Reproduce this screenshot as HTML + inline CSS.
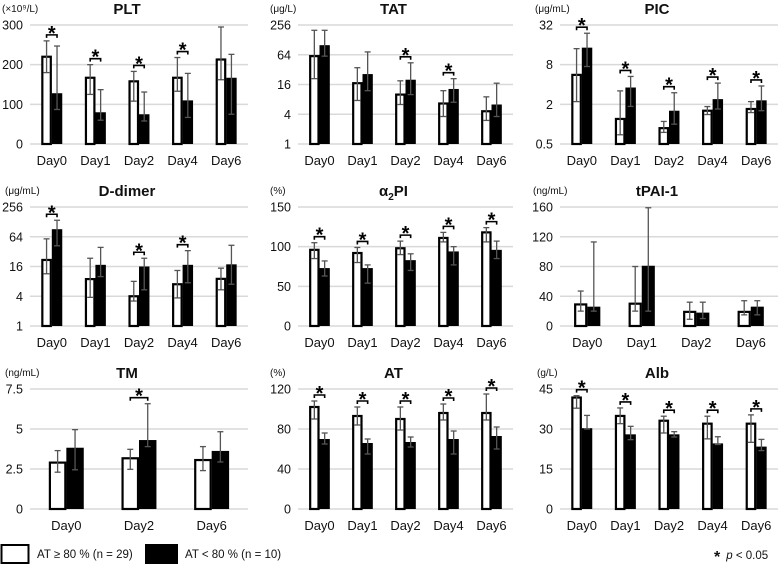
<!DOCTYPE html>
<html><head><meta charset="utf-8">
<style>
html,body{margin:0;padding:0;background:#fff;}
svg{display:block;font-family:"Liberation Sans",Arial,sans-serif;}
</style></head>
<body>
<svg id="chart" width="778" height="573" viewBox="0 0 778 573"></svg>
<script>
// ---- data arrays ----
const days5 = ["Day0","Day1","Day2","Day4","Day6"];
const days4 = ["Day0","Day1","Day2","Day6"];
const days3 = ["Day0","Day2","Day6"];

const pltWhite=[220,167,158,167,213], pltWhiteLo=[180,125,108,133,162], pltWhiteHi=[260,200,183,218,295];
const pltBlack=[128,80,75,110,167], pltBlackLo=[87,60,58,67,75], pltBlackHi=[247,137,131,178,226];
const pltSig=[1,1,1,1,0]; const pltTicks=[0,100,200,300];

const tatWhite=[60,17,10,6.6,4.6], tatWhiteLo=[21,7.6,6.3,3.6,3], tatWhiteHi=[200,35,19,12,9];
const tatBlack=[100,26,20,13,6.3], tatBlackLo=[60,12,10,7,3.6], tatBlackHi=[200,73,44,21,17];
const tatSig=[0,0,1,1,0]; const tatTicks=[1,4,16,64,256];

const picWhite=[5.6,1.2,0.87,1.6,1.7], picWhiteLo=[2.2,0.69,0.75,1.4,1.5], picWhiteHi=[14,3.2,1.1,1.85,2.2];
const picBlack=[14.5,3.6,1.6,2.4,2.3], picBlackLo=[7.5,1.86,1.0,1.7,1.6], picBlackHi=[24,5.3,3.0,4.2,3.8];
const picSig=[1,1,1,1,1]; const picTicks=[0.5,2,8,32];

const ddWhite=[21.7,8.9,4,7,9], ddWhiteLo=[11.4,3.8,3.2,3.7,5.4], ddWhiteHi=[58,23.5,8,13.3,14.8];
const ddBlack=[91,17.3,16,17.3,17.7], ddBlackLo=[42,10,5.4,7.5,7], ddBlackHi=[138,39,23.5,33.5,43];
const ddSig=[1,0,1,1,0]; const ddTicks=[1,4,16,64,256];

const a2White=[96,92,98,111,118], a2WhiteLo=[85,80,90,106,106], a2WhiteHi=[105,99,107,118,124];
const a2Black=[73,73,83,94,96], a2BlackLo=[63,54,70,77,85], a2BlackHi=[82,77,91,100,107];
const a2Sig=[1,1,1,1,1]; const a2Ticks=[0,50,100,150];

const tpWhite=[29,30,19,19], tpWhiteLo=[20,20,9,15], tpWhiteHi=[47,80,32,34];
const tpBlack=[26,81,18,26], tpBlackLo=[20,20,10,15], tpBlackHi=[113,159,32,34];
const tpSig=[0,0,0,0]; const tpTicks=[0,40,80,120,160];

const tmWhite=[2.9,3.17,3.06], tmWhiteLo=[2.3,2.48,2.4], tmWhiteHi=[3.65,3.73,3.9];
const tmBlack=[3.83,4.31,3.63], tmBlackLo=[2.45,3.9,2.94], tmBlackHi=[4.96,6.58,4.83];
const tmSig=[0,1,0]; const tmTicks=[0,2.5,5,7.5];

const atWhite=[102,93,90,96,96], atWhiteLo=[90,84,79,89,89], atWhiteHi=[108,102,102,105,115];
const atBlack=[70,66,67,70,73], atBlackLo=[65,55,62,55,60], atBlackHi=[76,70,72,78,82];
const atSig=[1,1,1,1,1]; const atTicks=[0,40,80,120];

const albWhite=[41.8,34.9,33.1,32,32], albWhiteLo=[37.8,32,28.5,26.3,25], albWhiteHi=[42.5,37.9,34.8,34.8,35.3];
const albBlack=[30.3,28,28,24.6,23.4], albBlackLo=[30,26,27,24.2,21.9], albBlackHi=[35.1,31,29,27.1,26.1];
const albSig=[1,1,1,1,1]; const albTicks=[0,15,30,45];

// ---- rendering ----
const NS="http://www.w3.org/2000/svg";
const svg=document.getElementById('chart');
function el(tag,attrs,parent){const e=document.createElementNS(NS,tag);for(const k in attrs)e.setAttribute(k,attrs[k]);(parent||svg).appendChild(e);return e;}
function txt(s,attrs,parent){const t=el('text',attrs,parent);t.textContent=s;return t;}

const cols=[[30,248],[298,513],[560,778]];
const rows=[[25,144],[207,326],[389,509]];

function panel(o){
  const [x0,x1]=cols[o.c], [top,bot]=rows[o.r];
  const g=el('g',{});
  
  
  const tmin=o.ticks[0], tmax=o.ticks[o.ticks.length-1];
  const y=v=>{ if(o.log){return bot-(Math.log2(v)-Math.log2(tmin))/(Math.log2(tmax)-Math.log2(tmin))*(bot-top);} return bot-(v-tmin)/(tmax-tmin)*(bot-top); };
  // grid + ticks
  o.ticks.forEach(t=>{
    const ln=el('line',{x1:x0,x2:x1,y1:y(t),y2:y(t),stroke:'#d9d9d9','stroke-width':1.5},g);
    
    
    const tl=txt(String(t),{x:x0-7,y:y(t)+4.5,'text-anchor':'end','font-size':12.5,fill:'#111'},g);
    
    
  });
  const un=txt(o.unit,{x:o.ux,y:top-13,'font-size':10,fill:'#111'},g);
  
  
  const ti=txt(o.title,{x:(x0+x1)/2-12,y:top-11,'text-anchor':'middle','font-size':15,'font-weight':'bold',fill:'#111'},g);
  
  
  if(o.sub){ti.textContent='';const a=el('tspan',{},ti);a.textContent='α';const b=el('tspan',{'font-size':10,dy:4},ti);b.textContent='2';const c=el('tspan',{dy:-4},ti);c.textContent='PI';}
  const n=o.cats.length, cw=(x1-x0)/n, bw=cw*0.24;
  o.cats.forEach((cat,i)=>{
    const cx=x0+cw*(i+0.5);
    const cl=txt(cat,{x:cx,y:bot+21,'text-anchor':'middle','font-size':13,fill:'#111'},g);
    
    
    const yw=y(o.w[i]), yb=y(o.b[i]);
    const wb=el('rect',{x:cx-bw+1,y:yw,width:bw-2,height:bot-yw,fill:'#fff',stroke:'#000','stroke-width':2.2},g);
    
    
    const bb=el('rect',{x:cx,y:yb,width:bw,height:bot-yb,fill:'#000'},g);
    
    
    [[cx-bw/2,o.wl[i],o.wh[i],'white'],[cx+bw/2,o.bl[i],o.bh[i],'black']].forEach(([ex,lo,hi,k])=>{
      const eg=el('g',{stroke:'#555','stroke-width':1.3},g);
      
      
      el('line',{x1:ex,x2:ex,y1:y(lo),y2:y(hi)},eg);
      el('line',{x1:ex-3,x2:ex+3,y1:y(lo),y2:y(lo)},eg);
      el('line',{x1:ex-3,x2:ex+3,y1:y(hi),y2:y(hi)},eg);
    });
    if(o.sig[i]){
      const by=Math.min(y(o.wh[i]),y(o.bh[i]))-6;
      const sg=el('g',{},g);
      
      
      el('path',{d:`M${cx-bw/2} ${by+3}V${by}H${cx+bw/2}V${by+3}`,fill:'none',stroke:'#000','stroke-width':1.6},sg);
      txt('*',{x:cx,y:by+5,'text-anchor':'middle','font-size':20,'font-weight':'bold',fill:'#000'},sg);
    }
  });
}

panel({id:'plt',r:0,c:0,title:'PLT',unit:'(×10⁹/L)',ux:2,cats:days5,ticks:pltTicks,w:pltWhite,wl:pltWhiteLo,wh:pltWhiteHi,b:pltBlack,bl:pltBlackLo,bh:pltBlackHi,sig:pltSig});
panel({id:'tat',r:0,c:1,title:'TAT',unit:'(μg/L)',ux:270,log:true,cats:days5,ticks:tatTicks,w:tatWhite,wl:tatWhiteLo,wh:tatWhiteHi,b:tatBlack,bl:tatBlackLo,bh:tatBlackHi,sig:tatSig});
panel({id:'pic',r:0,c:2,title:'PIC',unit:'(μg/mL)',ux:535,log:true,cats:days5,ticks:picTicks,w:picWhite,wl:picWhiteLo,wh:picWhiteHi,b:picBlack,bl:picBlackLo,bh:picBlackHi,sig:picSig});
panel({id:'d-dimer',r:1,c:0,title:'D-dimer',unit:'(μg/mL)',ux:5,log:true,cats:days5,ticks:ddTicks,w:ddWhite,wl:ddWhiteLo,wh:ddWhiteHi,b:ddBlack,bl:ddBlackLo,bh:ddBlackHi,sig:ddSig});
panel({id:'a2pi',r:1,c:1,title:'α2PI',sub:true,unit:'(%)',ux:270,cats:days5,ticks:a2Ticks,w:a2White,wl:a2WhiteLo,wh:a2WhiteHi,b:a2Black,bl:a2BlackLo,bh:a2BlackHi,sig:a2Sig});
panel({id:'tpai1',r:1,c:2,title:'tPAI-1',unit:'(ng/mL)',ux:533,cats:days4,ticks:tpTicks,w:tpWhite,wl:tpWhiteLo,wh:tpWhiteHi,b:tpBlack,bl:tpBlackLo,bh:tpBlackHi,sig:tpSig});
panel({id:'tm',r:2,c:0,title:'TM',unit:'(ng/mL)',ux:5,cats:days3,ticks:tmTicks,w:tmWhite,wl:tmWhiteLo,wh:tmWhiteHi,b:tmBlack,bl:tmBlackLo,bh:tmBlackHi,sig:tmSig});
panel({id:'at',r:2,c:1,title:'AT',unit:'(%)',ux:270,cats:days5,ticks:atTicks,w:atWhite,wl:atWhiteLo,wh:atWhiteHi,b:atBlack,bl:atBlackLo,bh:atBlackHi,sig:atSig});
panel({id:'alb',r:2,c:2,title:'Alb',unit:'(g/L)',ux:537,cats:days5,ticks:albTicks,w:albWhite,wl:albWhiteLo,wh:albWhiteHi,b:albBlack,bl:albBlackLo,bh:albBlackHi,sig:albSig});

// legend
const lg=el('g',{});


const l1=el('rect',{x:1.5,y:545,width:27,height:18,fill:'#fff',stroke:'#000','stroke-width':2},lg);


const t1=txt('AT ≥ 80 % (n = 29)',{x:37,y:558,'font-size':11.5,fill:'#111'},lg);


const l2=el('rect',{x:145,y:544,width:33,height:20,fill:'#000'},lg);


const t2=txt('AT < 80 % (n = 10)',{x:185,y:558,'font-size':11.5,fill:'#111'},lg);


const t3=txt('',{x:714,y:559,'font-size':11.5,fill:'#111'},lg);


const s1=el('tspan',{'font-size':16,'font-weight':'bold',dy:3},t3);s1.textContent='*';
const s2=el('tspan',{'font-style':'italic',dx:6,dy:-3},t3);s2.textContent='p';
const s3=el('tspan',{},t3);s3.textContent=' < 0.05';
</script>
</body></html>
